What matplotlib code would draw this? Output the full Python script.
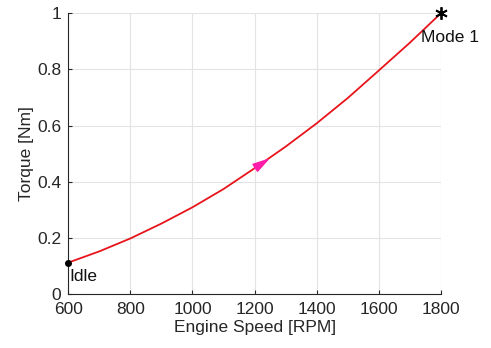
import matplotlib.pyplot as plt

plt.rcParams['font.family'] = ['Liberation Sans', 'DejaVu Sans']

# torque path from idle to mode 1
speed = [600, 700, 800, 900, 1000, 1100, 1200, 1300, 1400, 1500, 1600, 1700, 1800]
torque = [0.112, 0.152, 0.198, 0.251, 0.309, 0.374, 0.448, 0.525, 0.608, 0.698, 0.796, 0.895, 1.0]

idle = (600, 0.112)
mode1 = (1800, 1.0)
arrow_tail = (1200, 0.448)
arrow_tip = (1250, 0.484)

fig = plt.figure(figsize=(4.91, 3.48), dpi=100)
ax = fig.add_axes([0.139, 0.155, 0.759, 0.807])

ax.plot(speed, torque, color='#e8141b', lw=1.3, zorder=3)
ax.plot(*idle, 'o', color='black', ms=4, zorder=4, clip_on=False)
ax.plot(*mode1, marker=(6, 2, 0), color='black', ms=9, mew=1.3, zorder=4, clip_on=False)
ax.annotate('', xy=arrow_tip, xytext=arrow_tail,
            arrowprops=dict(arrowstyle='-|>,head_length=0.8,head_width=0.22',
                            color='#ff1ca8', lw=1.2,
                            mutation_scale=13, shrinkA=0, shrinkB=0), zorder=5)

ax.text(603, 0.062, 'Idle', fontsize=12.5, va='center', ha='left', color='#111111')
ax.text(1736, 0.913, 'Mode 1', fontsize=12.5, va='center', ha='left', color='#111111')

ax.set_xlim(600, 1800)
ax.set_ylim(0, 1)
ax.set_xticks(range(600, 1801, 200))
ax.set_yticks([0, 0.2, 0.4, 0.6, 0.8, 1])
ax.set_yticklabels(['0', '0.2', '0.4', '0.6', '0.8', '1'])
ax.grid(True, color='#e3e3e3', lw=0.8)
ax.set_axisbelow(True)
for s in ['top', 'right']:
    ax.spines[s].set_visible(False)
for s in ['left', 'bottom']:
    ax.spines[s].set_color('#262626')
    ax.spines[s].set_linewidth(0.8)
ax.tick_params(direction='in', length=3, labelsize=12.5, colors='#262626')
ax.tick_params(axis='x', pad=6)
ax.tick_params(axis='y', pad=5)
ax.set_xlabel('Engine Speed [RPM]', fontsize=12.5, color='#262626', labelpad=2)
ax.set_ylabel('Torque [Nm]', fontsize=12.5, color='#262626', labelpad=2)

fig.savefig('out.png', dpi=100)
